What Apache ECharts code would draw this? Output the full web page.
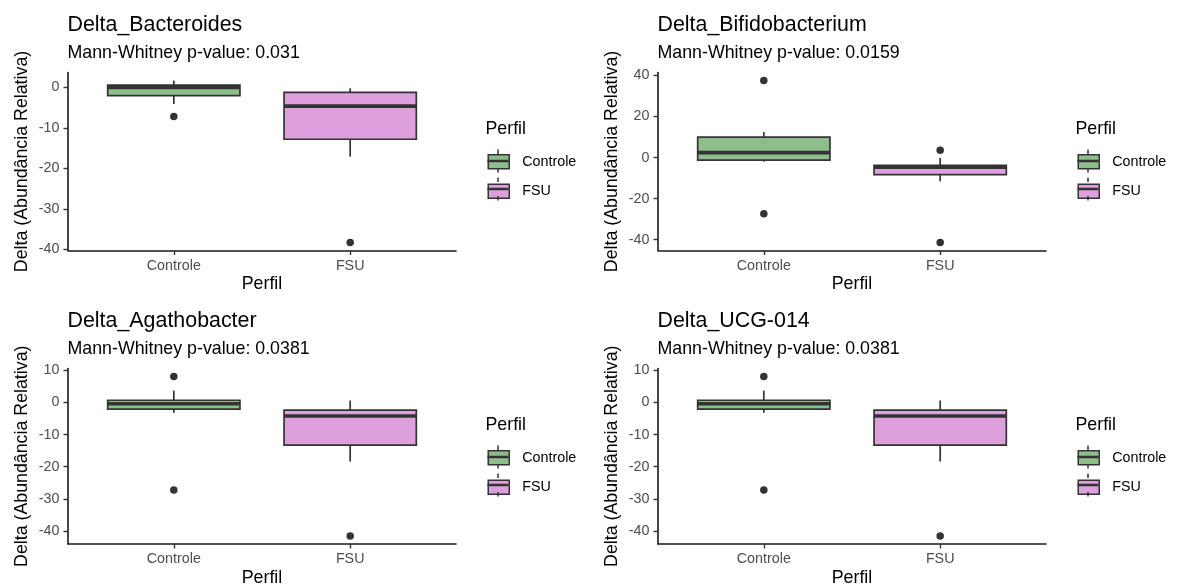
<!DOCTYPE html>
<html>
<head>
<meta charset="utf-8">
<script src="https://cdn.jsdelivr.net/npm/echarts@6/dist/echarts.min.js"></script>
<style>
  html, body { margin: 0; padding: 0; background: #fff; }
  #chart { width: 1179px; height: 588px; }
</style>
</head>
<body>
<div id="chart"></div>
<script>
// categories on the x axis and their positions (ggplot discrete scale: 1, 2)
const categories = ['Controle', 'FSU'];
const categoryPos = [1, 2];
const fills = ['#8FBC8B', '#DDA0DD'];

const panelTitles = ['Delta_Bacteroides', 'Delta_Bifidobacterium', 'Delta_Agathobacter', 'Delta_UCG-014'];
const pValues = ['0.031', '0.0159', '0.0381', '0.0381'];

// y tick labels per panel
const ticksBacteroides = [-40, -30, -20, -10, 0];
const ticksBifido = [-40, -20, 0, 20, 40];
const ticksAgatho = [-40, -30, -20, -10, 0, 10];
const ticksUcg = [-40, -30, -20, -10, 0, 10];

// box stats: [lower whisker, Q1, median, Q3, upper whisker]
const bacteroidesControle = [-4.1, -2.0, 0.0, 0.6, 1.7];
const bacteroidesFSU = [-17.1, -12.8, -4.6, -1.2, -0.2];
const bacteroidesOutControle = [-7.2];
const bacteroidesOutFSU = [-38.3];

const bifidoControle = [-2.0, -1.2, 2.4, 10.0, 12.4];
const bifidoFSU = [-11.5, -8.3, -4.7, -3.8, -0.2];
const bifidoOutControle = [37.5, -27.4];
const bifidoOutFSU = [3.6, -41.3];

const agathoControle = [-3.2, -2.1, -0.4, 0.7, 3.7];
const agathoFSU = [-18.4, -13.3, -4.2, -2.4, 0.6];
const agathoOutControle = [8.1, -27.3];
const agathoOutFSU = [-41.6];

const ucgControle = [-3.2, -2.1, -0.4, 0.7, 3.7];
const ucgFSU = [-18.4, -13.3, -4.2, -2.4, 0.6];
const ucgOutControle = [8.1, -27.3];
const ucgOutFSU = [-41.6];

const panels = [
  { boxes: [bacteroidesControle, bacteroidesFSU], outliers: [bacteroidesOutControle, bacteroidesOutFSU], ticks: ticksBacteroides },
  { boxes: [bifidoControle, bifidoFSU], outliers: [bifidoOutControle, bifidoOutFSU], ticks: ticksBifido },
  { boxes: [agathoControle, agathoFSU], outliers: [agathoOutControle, agathoOutFSU], ticks: ticksAgatho },
  { boxes: [ucgControle, ucgFSU], outliers: [ucgOutControle, ucgOutFSU], ticks: ticksUcg }
];

const FONT = '"Liberation Sans", Arial, sans-serif';
const chart = echarts.init(document.getElementById('chart'));

function renderBox(params, api) {
  const x = api.value(0);
  const pt = k => api.coord([x, api.value(k)]);
  const low = pt(1), q1 = pt(2), med = pt(3), q3 = pt(4), high = pt(5);
  const half = api.size([0.75, 0])[0] / 2;
  const cx = low[0];
  const line = { stroke: '#333', lineWidth: 1.7 };
  return {
    type: 'group',
    children: [
      { type: 'line', shape: { x1: cx, y1: high[1], x2: cx, y2: q3[1] }, style: line },
      { type: 'line', shape: { x1: cx, y1: q1[1], x2: cx, y2: low[1] }, style: line },
      { type: 'rect', shape: { x: cx - half, y: q3[1], width: half * 2, height: q1[1] - q3[1] },
        style: { fill: api.visual('color'), stroke: '#333', lineWidth: 1.7 } },
      { type: 'line', shape: { x1: cx - half, y1: med[1], x2: cx + half, y2: med[1] },
        style: { stroke: '#333', lineWidth: 3.6 } }
    ]
  };
}

const grids = [], xAxes = [], yAxes = [], series = [], titles = [], legends = [], graphics = [];

panels.forEach((p, i) => {
  const dx = (i % 2) * 590, dy = Math.floor(i / 2) * 296;
  // ggplot-like continuous expansion: 5% of data range each side
  const all = [].concat(...p.boxes, ...p.outliers);
  const lo = Math.min(...all), hi = Math.max(...all), pad = (hi - lo) * 0.05;

  grids.push({ left: 68 + dx, top: 72.5 + dy, width: 388, height: 178, containLabel: false });

  xAxes.push({
    type: 'value', gridIndex: i, min: 0.4, max: 2.6,
    name: 'Perfil', nameLocation: 'middle', nameGap: 25,
    nameTextStyle: { fontFamily: FONT, fontSize: 17.8, color: '#000', lineHeight: 18 },
    axisLine: { show: true, onZero: false, lineStyle: { color: '#1a1a1a', width: 1.6 } },
    axisTick: { show: true, length: 4.5, customValues: categoryPos, lineStyle: { color: '#333', width: 1.4 } },
    axisLabel: { customValues: categoryPos, formatter: v => categories[Math.round(v) - 1],
      margin: 8.5, fontFamily: FONT, fontSize: 14.3, color: '#4D4D4D' },
    splitLine: { show: false }
  });

  yAxes.push({
    type: 'value', gridIndex: i, min: lo - pad, max: hi + pad,
    name: 'Delta (Abundância Relativa)', nameLocation: 'middle', nameGap: 37,
    nameTextStyle: { fontFamily: FONT, fontSize: 17.8, color: '#000', lineHeight: 18 },
    axisLine: { show: true, onZero: false, lineStyle: { color: '#1a1a1a', width: 1.6 } },
    axisTick: { show: true, length: 4.5, customValues: p.ticks, lineStyle: { color: '#333', width: 1.4 } },
    axisLabel: { customValues: p.ticks, margin: 8.5, fontFamily: FONT, fontSize: 14.3, color: '#4D4D4D' },
    splitLine: { show: false }
  });

  categories.forEach((c, g) => {
    series.push({
      type: 'custom', name: c, xAxisIndex: i, yAxisIndex: i,
      data: [[categoryPos[g]].concat(p.boxes[g])],
      encode: { x: 0, y: [1, 2, 3, 4, 5] },
      itemStyle: { color: fills[g] },
      renderItem: renderBox, z: 2
    });
    series.push({
      type: 'scatter', name: c, xAxisIndex: i, yAxisIndex: i,
      data: p.outliers[g].map(v => [categoryPos[g], v]),
      symbolSize: 7.5, itemStyle: { color: '#333', opacity: 1 }, z: 3
    });
  });

  titles.push({
    text: panelTitles[i], subtext: 'Mann-Whitney p-value: ' + pValues[i],
    left: 67.5 + dx, top: 14 + dy, padding: 0, itemGap: 8.5,
    textStyle: { fontFamily: FONT, fontSize: 21.4, fontWeight: 'normal', color: '#000', lineHeight: 22 },
    subtextStyle: { fontFamily: FONT, fontSize: 17.8, color: '#000', lineHeight: 18 }
  });
  titles.push({
    text: 'Perfil', left: 485.5 + dx, top: 120.5 + dy, padding: 0,
    textStyle: { fontFamily: FONT, fontSize: 17.8, fontWeight: 'normal', color: '#000', lineHeight: 18 }
  });

  legends.push({
    orient: 'vertical', left: 487.5 + dx, top: 154 + dy, padding: 0,
    itemWidth: 21, itemHeight: 14, itemGap: 14, selectedMode: false,
    data: categories.map((c, g) => ({ name: c, icon: 'rect',
      itemStyle: { color: fills[g], borderColor: '#333', borderWidth: 1.5 } })),
    formatter: '{sp|}{name}',
    textStyle: { fontFamily: FONT, fontSize: 14.3, color: '#000', lineHeight: 14, rich: { sp: { width: 8 } } }
  });

  // median line and whisker ticks on the legend keys
  categories.forEach((c, g) => {
    const x0 = 487.5 + dx, y0 = 154 + dy + g * 28, cx = x0 + 10.5;
    graphics.push(
      { type: 'line', shape: { x1: x0, y1: y0 + 7, x2: x0 + 21, y2: y0 + 7 }, style: { stroke: '#333', lineWidth: 2.5 }, z: 100 },
      { type: 'line', shape: { x1: cx, y1: y0 - 4.5, x2: cx, y2: y0 }, style: { stroke: '#333', lineWidth: 1.5 }, z: 100 },
      { type: 'line', shape: { x1: cx, y1: y0 + 14, x2: cx, y2: y0 + 18.5 }, style: { stroke: '#333', lineWidth: 1.5 }, z: 100 }
    );
  });
});

chart.setOption({
  animation: false,
  backgroundColor: '#fff',
  title: titles,
  legend: legends,
  grid: grids,
  xAxis: xAxes,
  yAxis: yAxes,
  series: series,
  graphic: graphics
});
</script>
</body>
</html>
